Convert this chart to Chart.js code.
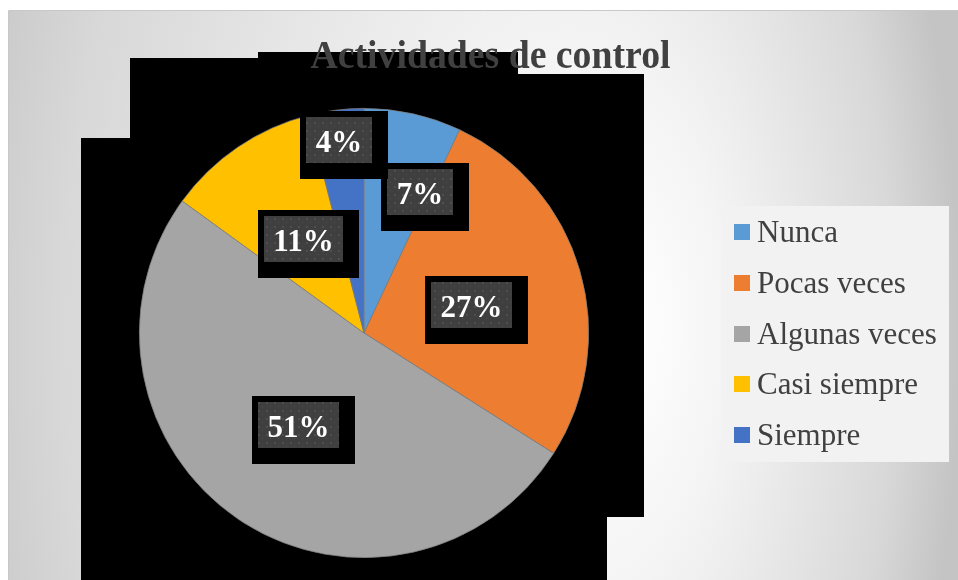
<!DOCTYPE html>
<html>
<head>
<meta charset="utf-8">
<title>Actividades de control</title>
<script src="https://cdn.jsdelivr.net/npm/chart.js@4.4.1/dist/chart.umd.min.js"></script>
<style>
  html, body { margin: 0; padding: 0; background: #ffffff; }
  canvas { display: block; }
</style>
</head>
<body>
<canvas id="pieChart" width="958" height="580"></canvas>
<script>
// === Datos ===
const categories = ["Nunca", "Pocas veces", "Algunas veces", "Casi siempre", "Siempre"];
const percentages = [7, 27, 51, 11, 4];
const sliceColors = ["#5B9BD5", "#ED7D31", "#A5A5A5", "#FFC000", "#4472C4"];
const chartTitle = "Actividades de control";

// desplazamiento de etiquetas que no caben en su sector
const labelNudge = [[31, -31], [0, 3], [-2, -1], [3, -1], [-11, -82]];

const serif = '"Liberation Serif", "Times New Roman", serif';

// trama de puntos para las cajas de etiqueta
function dotPattern(ctx) {
    const tile = document.createElement("canvas");
    tile.width = 8;
    tile.height = 8;
    const t = tile.getContext("2d");
    t.fillStyle = "#3f3f3f";
    t.fillRect(0, 0, 8, 8);
    t.fillStyle = "#4f4f4f";
    t.fillRect(2, 2, 2, 2);
    t.fillRect(6, 6, 1, 1);
    return ctx.createPattern(tile, "repeat");
}

// === Fondo, sombras y titulo ===
const backdrop = {
    id: "backdrop",
    beforeDraw(chart) {
        const ctx = chart.ctx;
        ctx.save();
        ctx.fillStyle = "#ffffff";
        ctx.fillRect(0, 0, chart.width, chart.height);

        // degradado radial del area del grafico
        ctx.save();
        ctx.beginPath();
        ctx.rect(8, 11, 950, 569);
        ctx.clip();
        ctx.translate(630, 330);
        ctx.scale(1, 1.8);
        const g = ctx.createRadialGradient(0, 0, 0, -190, 0, 520);
        g.addColorStop(0, "#ffffff");
        g.addColorStop(0.3, "#f4f4f4");
        g.addColorStop(0.8, "#d8d8d8");
        g.addColorStop(1, "#c4c4c4");
        ctx.fillStyle = g;
        ctx.fillRect(-700, -200, 1400, 400);
        ctx.restore();

        ctx.strokeStyle = "#c8c8c8";
        ctx.lineWidth = 1;
        ctx.beginPath();
        ctx.moveTo(8.5, 580);
        ctx.lineTo(8.5, 10.5);
        ctx.lineTo(958, 10.5);
        ctx.stroke();

        // sombra negra del area de trazado
        ctx.fillStyle = "#000000";
        ctx.fillRect(130, 74, 514, 443);
        ctx.fillRect(130, 58, 388, 16);
        ctx.fillRect(258, 52, 260, 6);
        ctx.fillRect(81, 138, 526, 442);

        // titulo
        ctx.fillStyle = "#404040";
        ctx.font = "bold 40px " + serif;
        ctx.textAlign = "center";
        ctx.textBaseline = "alphabetic";
        ctx.fillText(chartTitle, 490.5, 68, 360);
        ctx.restore();
    }
};

// === Etiquetas de porcentaje y leyenda ===
const overlays = {
    id: "overlays",
    afterDatasetsDraw(chart) {
        const ctx = chart.ctx;
        const meta = chart.getDatasetMeta(0);
        const fill = dotPattern(ctx);
        ctx.save();
        ctx.font = "bold 31px " + serif;
        ctx.textAlign = "center";
        ctx.textBaseline = "alphabetic";

        meta.data.forEach((arc, i) => {
            const pos = arc.tooltipPosition();
            const text = chart.data.datasets[0].data[i] + "%";
            const w = Math.round(ctx.measureText(text).width) + 19;
            const h = 46;
            const x = Math.round(pos.x + labelNudge[i][0] - w / 2);
            const y = Math.round(pos.y + labelNudge[i][1] - h / 2);

            ctx.fillStyle = "#000000";
            ctx.fillRect(x - 6, y - 6, w + 22, h + 22);
            ctx.fillStyle = fill;
            ctx.fillRect(x, y, w, h);
            ctx.fillStyle = "#ffffff";
            ctx.fillText(text, x + w / 2, y + 35);
        });

        // leyenda
        ctx.fillStyle = "#f2f2f2";
        ctx.fillRect(721, 206, 228, 256);
        ctx.font = "31px " + serif;
        ctx.textAlign = "left";
        chart.data.labels.forEach((label, i) => {
            const cy = 232 + i * 50.8;
            ctx.fillStyle = sliceColors[i];
            ctx.fillRect(734, Math.round(cy - 8), 16, 16);
            ctx.fillStyle = "#404040";
            ctx.fillText(label, 757, cy + 10);
        });
        ctx.restore();
    }
};

const chartCtx = document.getElementById("pieChart").getContext("2d");
const pieChart = new Chart(chartCtx, {
    type: "pie",
    data: {
        labels: categories,
        datasets: [{
            data: percentages,
            backgroundColor: sliceColors,
            borderColor: "#7f7f7f",
            borderWidth: 0.75
        }]
    },
    options: {
        responsive: false,
        animation: false,
        layout: {
            padding: { left: 139, right: 369, top: 108, bottom: 22 }
        },
        plugins: {
            legend: { display: false },
            title: { display: false },
            tooltip: { enabled: false }
        }
    },
    plugins: [backdrop, overlays]
});
</script>
</body>
</html>
